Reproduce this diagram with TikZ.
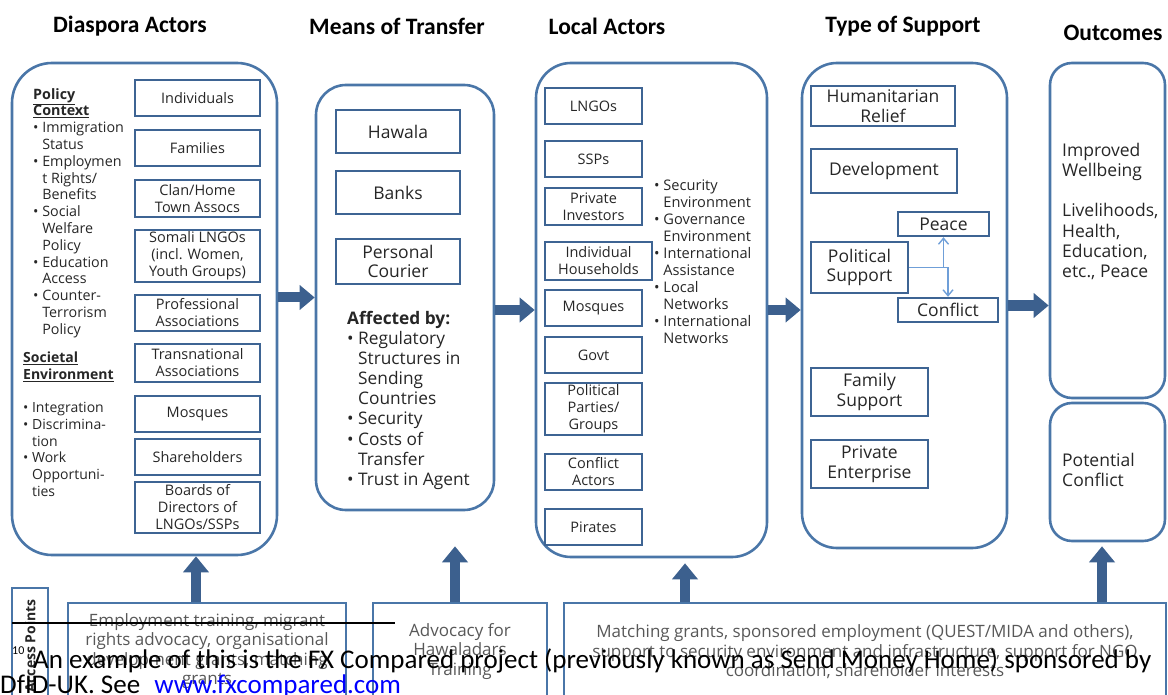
\documentclass[tikz,border=0pt]{standalone}
\usepackage{fontspec}
\setmainfont{Open Sans}
\newfontfamily\hdfont{Carlito}
\usetikzlibrary{arrows.meta}

\definecolor{boxblue}{RGB}{62,100,147}
\definecolor{rimblue}{RGB}{74,118,168}
\definecolor{arrowblue}{RGB}{60,96,142}
\definecolor{linkblue}{RGB}{111,159,216}
\definecolor{inkgray}{RGB}{38,38,38}
\definecolor{fadegray}{RGB}{88,88,88}

\newcommand{\bul}{\textbullet\ }
\newcommand{\ind}{\hphantom{\textbullet\ }}

\tikzset{
  hdr/.style={font=\hdfont\bfseries\fontsize{23.5}{26}\selectfont, text=black},
  cont/.style={draw=rimblue, line width=2.6pt, rounded corners=#1, inner sep=0pt},
  abox/.style n args={2}{draw=boxblue, line width=2.4pt, minimum width=#1pt, minimum height=#2pt,
    inner sep=1pt, align=center, text=inkgray, font=\fontsize{14.5}{17}\selectfont},
  bbox/.style n args={2}{abox={#1}{#2}, font=\fontsize{17.5}{19.5}\selectfont},
  side/.style={align=left, inner sep=0pt, text=inkgray},
  lowbox/.style={draw=rimblue, line width=2pt, inner sep=0pt},
  lowtext/.style={align=center, text=fadegray, font=\fontsize{17}{19.5}\selectfont},
  bigarrow/.style={draw=arrowblue, line width=10pt, -{Triangle[length=15pt,width=24pt]}},
  uparrow/.style={draw=arrowblue, line width=10pt, -{Triangle[length=16pt,width=25pt]}},
  link/.style={draw=linkblue, line width=1.4pt, -{Straight Barb[length=6pt,width=10pt]}}
}

\begin{document}
\begin{tikzpicture}[x=1pt,y=1pt,yscale=-1]
  \useasboundingbox (0,0) rectangle (1168,695);
  \clip (0,0) rectangle (1168,695);

  % column headings
  \node[hdr] (hdias) at (130,26) {Diaspora Actors};
  \node[hdr] (hmeans) at (397,26) {Means of Transfer};
  \node[hdr] (hlocal) at (607,26) {Local Actors};
  \node[hdr] (hsupp) at (903,26) {Type of Support};
  \node[hdr] (hout) at (1113,33) {Outcomes};

  % containers
  \node[cont=40pt, minimum width=265pt, minimum height=492pt] (dias) at (144.5,309) {};
  \node[cont=30pt, minimum width=178pt, minimum height=425pt] (means) at (405,297.5) {};
  \node[cont=35pt, minimum width=231pt, minimum height=494pt] (local) at (651.5,310) {};
  \node[cont=35pt, minimum width=205pt, minimum height=485pt] (supp) at (904.5,305.5) {};
  \node[cont=22pt, minimum width=115pt, minimum height=335pt] (well) at (1107.5,230.5) {};
  \node[cont=22pt, minimum width=115pt, minimum height=138pt] (pconf) at (1107.5,472) {};

  % diaspora actors
  \node[side, anchor=north west, font=\fontsize{14.3}{16.8}\selectfont] (policy) at (33,88)
    {\textbf{\underline{Policy}}\\\textbf{\underline{Context}}\\\bul Immigration\\\ind Status\\\bul Employmen\\\ind t Rights/\\\ind Benefits\\\bul Social\\\ind Welfare\\\ind Policy\\\bul Education\\\ind Access\\\bul Counter-\\\ind Terrorism\\\ind Policy};
  \node[side, anchor=north west, font=\fontsize{14}{16.8}\selectfont] (societal) at (23,352)
    {\textbf{\underline{Societal}}\\\textbf{\underline{Environment}}\\[16pt]\bul Integration\\\bul Discrimina-\\\ind tion\\\bul Work\\\ind Opportuni-\\\ind ties};
  \node[abox={125}{36}] (indiv) at (197.5,98) {Individuals};
  \node[abox={125}{36}] (fam) at (197.5,148) {Families};
  \node[abox={125}{37}] (clan) at (197.5,198.5) {Clan/Home\\Town Assocs};
  \node[abox={125}{52}] (somali) at (197.5,256) {Somali LNGOs\\(incl. Women,\\Youth Groups)};
  \node[abox={125}{36}] (prof) at (197.5,313) {Professional\\Associations};
  \node[abox={125}{38}] (trans) at (197.5,363) {Transnational\\Associations};
  \node[abox={125}{36}] (dmosq) at (197.5,414) {Mosques};
  \node[abox={125}{36}] (share) at (197.5,457) {Shareholders};
  \node[abox={125}{51}] (board) at (197.5,507.5) {Boards of\\Directors of\\LNGOs/SSPs};

  % means of transfer
  \node[bbox={124}{43}] (hawala) at (398,131.5) {Hawala};
  \node[bbox={124}{43}] (banks) at (398,192.5) {Banks};
  \node[bbox={124}{45}] (courier) at (398,261.5) {Personal\\Courier};
  \node[side, anchor=north west, font=\fontsize{17.3}{20.1}\selectfont] (affect) at (347,311)
    {\textbf{Affected by:}\\\bul Regulatory\\\ind Structures in\\\ind Sending\\\ind Countries\\\bul Security\\\bul Costs of\\\ind Transfer\\\bul Trust in Agent};

  % local actors
  \node[abox={97}{36}] (lngo) at (593.5,106) {LNGOs};
  \node[abox={97}{36}] (ssp) at (593.5,159) {SSPs};
  \node[abox={97}{37}] (invest) at (593.5,206.5) {Private\\Investors};
  \node[abox={107}{38}] (house) at (598.5,261) {Individual\\Households};
  \node[abox={97}{36}] (lmosq) at (593.5,308) {Mosques};
  \node[abox={97}{36}] (govt) at (593.5,355) {Govt};
  \node[abox={97}{52}] (party) at (593.5,409) {Political\\Parties/\\Groups};
  \node[abox={97}{36}] (cactor) at (593.5,472) {Conflict\\Actors};
  \node[abox={97}{36}] (pirate) at (593.5,527) {Pirates};
  \node[side, anchor=north west, font=\fontsize{14.6}{16.9}\selectfont] (envir) at (654,180)
    {\bul Security\\\ind Environment\\\bul Governance\\\ind Environment\\\bul International\\\ind Assistance\\\bul Local\\\ind Networks\\\bul International\\\ind Networks};

  % type of support
  \node[bbox={144}{40}] (relief) at (883,106) {Humanitarian\\Relief};
  \node[bbox={146}{44}] (devel) at (884,171) {Development};
  \node[bbox={91}{24}] (peace) at (943.5,224) {Peace};
  \node[bbox={97}{51}] (polit) at (859.5,267.5) {Political\\Support};
  \node[bbox={100}{24}] (confl) at (948,310) {Conflict};
  \node[bbox={117}{48}] (family) at (869.5,392) {Family\\Support};
  \node[bbox={117}{48}] (enter) at (869.5,464) {Private\\Enterprise};
  \draw[link] (polit.east) -- (polit.east -| confl.north) -- (confl.north);
  \draw[link] (polit.east -| peace.south) -- (peace.south);

  % outcomes
  \node[side, anchor=north west, font=\fontsize{17.5}{20.2}\selectfont] (wtext) at (1062,143)
    {Improved\\Wellbeing\\[20pt]Livelihoods,\\Health,\\Education,\\etc., Peace};
  \node[side, anchor=north west, font=\fontsize{17.5}{20.2}\selectfont] (ptext) at (1062,453)
    {Potential\\Conflict};

  % flow arrows
  \draw[bigarrow] (dias.east |- means.west) -- (means.west);
  \draw[bigarrow] (means.east |- local.west) -- (local.west);
  \draw[bigarrow] (local.east) -- (local.east -| supp.west);
  \draw[bigarrow] (supp.east) -- (supp.east -| well.west);

  % access points
  \node[lowbox, minimum width=36pt, minimum height=132pt] (access) at (30,654) {};
  \node[rotate=90, text=inkgray, font=\bfseries\fontsize{14}{16}\selectfont] (acclbl) at (30,646) {Access Points};
  \node[lowbox, minimum width=278pt, minimum height=117pt] (low1) at (207,661.5) {};
  \node[lowbox, minimum width=174pt, minimum height=117pt] (low2) at (460,661.5) {};
  \node[lowbox, minimum width=602pt, minimum height=117pt] (low3) at (865,661.5) {};
  \node[lowtext] (low1txt) at (207,651) {Employment training, migrant\\rights advocacy, organisational\\development grants, matching\\grants};
  \node[lowtext] (low2txt) at (460,651.5) {Advocacy for\\Hawaladars\\Training};
  \node[lowtext] (low3txt) at (865,652) {Matching grants, sponsored employment (QUEST/MIDA and others),\\support to security environment and infrastructure, support for NGO\\coordination, shareholder interests};
  \draw[uparrow] ([xshift=-11pt]low1.north) -- ([xshift=-11pt]low1.north |- dias.south);
  \draw[uparrow, shorten >=35pt] ([xshift=-5pt]low2.north) -- ([xshift=-5pt]low2.north |- means.south);
  \draw[uparrow, shorten >=5pt] (low3.north -| 685,0) -- (local.south -| 685,0);
  \draw[uparrow, shorten >=4pt] (low3.north -| 1102,0) -- (pconf.south -| 1102,0);

  % footnote laid over the page
  \draw[line width=2pt] (12,623) coordinate (rulel) -- (395,623) coordinate (ruler);
  \node[anchor=base west, inner sep=0pt, font=\hdfont\fontsize{12}{14}\selectfont] (fnmark) at (12,654) {10};
  \node[anchor=base west, inner sep=0pt, font=\hdfont\fontsize{27}{30}\selectfont] (fnline) at (33,668)
    {An example of this is the FX Compared project (previously known as Send Money Home) sponsored by};
  \node[anchor=base west, inner sep=0pt, font=\hdfont\fontsize{27}{30}\selectfont] (fnlink) at (0,693)
    {DfID-UK. See\hspace{8pt} \textcolor{blue}{www.fxcompared.com}};
\end{tikzpicture}
\end{document}
